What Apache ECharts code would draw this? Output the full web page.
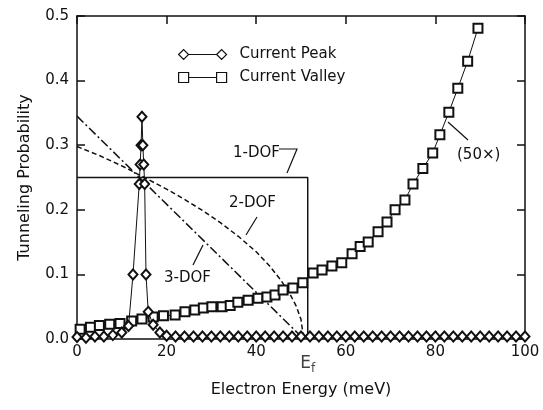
<!DOCTYPE html>
<html>
<head>
<meta charset="utf-8">
<script src="https://cdn.jsdelivr.net/npm/echarts@6/dist/echarts.min.js"></script>
<style>
  html, body { margin: 0; padding: 0; background: #fff; }
  #main { width: 543px; height: 410px; }
</style>
</head>
<body>
<div id="main"></div>
<script>
// values
const xTicks = [0, 20, 40, 60, 80, 100]
const yTicks = [0.0, 0.1, 0.2, 0.3, 0.4, 0.5]
const fermiEnergy = 51.5

const peakX = [0, 2, 4, 6, 8, 10, 11.5, 12.5, 13.9, 14.1, 14.3, 14.5, 14.7, 14.9, 15.1, 15.4, 15.9, 17, 18.5,
  20, 22, 24, 26, 28, 30, 32, 34, 36, 38, 40, 42, 44, 46, 48, 50, 52, 54, 56, 58, 60,
  62, 64, 66, 68, 70, 72, 74, 76, 78, 80, 82, 84, 86, 88, 90, 92, 94, 96, 98, 100]
const peakY = [0.003, 0.002, 0.004, 0.004, 0.006, 0.01, 0.02, 0.1, 0.24, 0.27, 0.3, 0.344, 0.3, 0.27, 0.24, 0.1, 0.042, 0.022, 0.01,
  0.005, 0.004, 0.004, 0.004, 0.004, 0.004, 0.004, 0.004, 0.004, 0.004, 0.004, 0.004, 0.004, 0.004, 0.004, 0.004, 0.004, 0.004, 0.004, 0.004, 0.004,
  0.004, 0.004, 0.004, 0.004, 0.004, 0.004, 0.004, 0.004, 0.004, 0.004, 0.004, 0.004, 0.004, 0.004, 0.004, 0.004, 0.004, 0.004, 0.004, 0.004]

const valleyX = [0.7, 3, 5, 7.3, 9.6, 12.2, 14.5, 17, 19.3, 21.9, 24.1, 26.3, 28.2, 30.1, 32.4, 34.2, 35.9, 38.2, 40.4, 42.4,
  44.2, 46, 48.2, 50.4, 52.7, 54.7, 56.9, 59.1, 61.4, 63.2, 65, 67.2, 69.2, 71, 73.2, 75, 77.2, 79.4, 81, 83, 85, 87.2, 89.5]
const valleyY = [0.015, 0.018, 0.021, 0.023, 0.024, 0.028, 0.031, 0.034, 0.036, 0.037, 0.042, 0.045, 0.048, 0.05, 0.05, 0.052, 0.057, 0.06, 0.063, 0.065,
  0.068, 0.076, 0.079, 0.087, 0.102, 0.107, 0.113, 0.118, 0.132, 0.143, 0.15, 0.166, 0.181, 0.2, 0.215, 0.24, 0.264, 0.288, 0.316, 0.351, 0.388, 0.43, 0.481]

const dof1X = [0, 51.5, 51.5]
const dof1Y = [0.25, 0.25, 0]

const dof2X = [0, 5, 10, 14.5, 20, 24, 28, 32, 36, 40, 43, 45.5, 47.5, 49, 50, 50.6]
const dof2Y = [0.298, 0.284, 0.268, 0.252, 0.232, 0.216, 0.199, 0.18, 0.159, 0.135, 0.113, 0.091, 0.07, 0.05, 0.03, 0]

const dof3X = [0, 50.6]
const dof3Y = [0.345, 0]

const pairs = (xs, ys) => xs.map((x, i) => [x, ys[i]])

const font = 'DejaVu Sans'
const chart = echarts.init(document.getElementById('main'))

const axisCommon = {
  axisLine: { show: true, onZero: false, lineStyle: { color: '#111', width: 1.5 } },
  axisTick: { show: true, inside: true, length: 8, lineStyle: { color: '#111', width: 1.5 } },
  splitLine: { show: false },
}

const option = {
  animation: false,
  backgroundColor: '#fff',
  textStyle: { fontFamily: font, color: '#111' },
  grid: { left: 77, right: 18, top: 16, bottom: 71 },
  legend: {
    data: [
      { name: 'Current Peak', icon: 'path://M0,5L5,0L10,5L5,10ZM10,5L38,5M38,5L43,0L48,5L43,10Z' },
      { name: 'Current Valley', icon: 'path://M0,0L10,0L10,10L0,10ZM10,5L38,5M38,0L48,0L48,10L38,10Z' },
    ],
    orient: 'vertical',
    left: 178,
    top: 47,
    padding: 0,
    itemGap: 8,
    itemWidth: 48,
    itemHeight: 10,
    selectedMode: false,
    itemStyle: { color: '#fff', borderColor: '#111', borderWidth: 1.2 },
    textStyle: { fontFamily: font, fontSize: 15, color: '#111', padding: [0, 0, 0, 8] },
  },
  xAxis: [
    {
      type: 'value', min: 0, max: 100, interval: 20,
      ...axisCommon,
      axisLabel: { fontSize: 15, color: '#111', margin: 6 },
      name: 'Electron Energy (meV)', nameLocation: 'middle', nameGap: 43,
      nameTextStyle: { fontSize: 16, color: '#111' },
    },
    {
      type: 'value', position: 'top', min: 0, max: 100, interval: 20,
      ...axisCommon, axisLabel: { show: false },
    },
  ],
  yAxis: [
    {
      type: 'value', min: 0, max: 0.5, interval: 0.1,
      ...axisCommon,
      axisLabel: { fontSize: 15, color: '#111', margin: 8, formatter: v => v.toFixed(1) },
      name: 'Tunneling Probability', nameLocation: 'middle', nameGap: 44,
      nameTextStyle: { fontSize: 16, color: '#111' },
    },
    {
      type: 'value', position: 'right', min: 0, max: 0.5, interval: 0.1,
      ...axisCommon, axisLabel: { show: false },
    },
  ],
  series: [
    {
      name: '1-DOF', type: 'line', data: pairs(dof1X, dof1Y), symbol: 'none',
      lineStyle: { color: '#111', width: 1.5 }, z: 2,
    },
    {
      name: '2-DOF', type: 'line', data: pairs(dof2X, dof2Y), symbol: 'none',
      lineStyle: { color: '#111', width: 1.5, type: [5, 3] }, z: 2,
    },
    {
      name: '3-DOF', type: 'line', data: pairs(dof3X, dof3Y), symbol: 'none',
      lineStyle: { color: '#111', width: 1.5, type: [9, 3, 2, 3] }, z: 2,
    },
    {
      name: 'Current Valley', type: 'line', data: pairs(valleyX, valleyY),
      symbol: 'emptyRect', symbolSize: 9,
      itemStyle: { color: '#111', borderWidth: 1.2 },
      lineStyle: { color: '#111', width: 1 }, z: 4,
    },
    {
      name: 'Current Peak', type: 'line', data: pairs(peakX, peakY),
      symbol: 'emptyDiamond', symbolSize: [9, 10],
      itemStyle: { color: '#111', borderWidth: 1.2 },
      lineStyle: { color: '#111', width: 1 }, z: 5,
    },
    {
      name: 'Ef', type: 'scatter', data: [[fermiEnergy, 0]], symbolSize: 0,
      label: {
        show: true, position: 'bottom', distance: 14,
        formatter: '{e|E}{s|f}',
        rich: {
          e: { fontSize: 17, fontFamily: font, color: '#111' },
          s: { fontSize: 12, fontFamily: font, color: '#111', padding: [10, 0, 0, 0] },
        },
      },
      z: 6,
    },
  ],
  graphic: [
    { type: 'text', left: 233, top: 146, style: { text: '1-DOF', fontSize: 15, fontFamily: font, fill: '#111' } },
    { type: 'polyline', shape: { points: [[279, 149], [297, 149], [287, 173]] }, style: { stroke: '#111', lineWidth: 1.2, fill: null } },
    { type: 'text', left: 229, top: 196, style: { text: '2-DOF', fontSize: 15, fontFamily: font, fill: '#111' } },
    { type: 'line', shape: { x1: 257, y1: 217, x2: 246, y2: 235 }, style: { stroke: '#111', lineWidth: 1.2 } },
    { type: 'text', left: 164, top: 271, style: { text: '3-DOF', fontSize: 15, fontFamily: font, fill: '#111' } },
    { type: 'line', shape: { x1: 193, y1: 265, x2: 203, y2: 245 }, style: { stroke: '#111', lineWidth: 1.2 } },
    { type: 'text', left: 457, top: 148, style: { text: '(50×)', fontSize: 15, fontFamily: font, fill: '#111' } },
    { type: 'line', shape: { x1: 468, y1: 140, x2: 448, y2: 122 }, style: { stroke: '#111', lineWidth: 1.2 } },
  ],
}

chart.setOption(option)
</script>
</body>
</html>
